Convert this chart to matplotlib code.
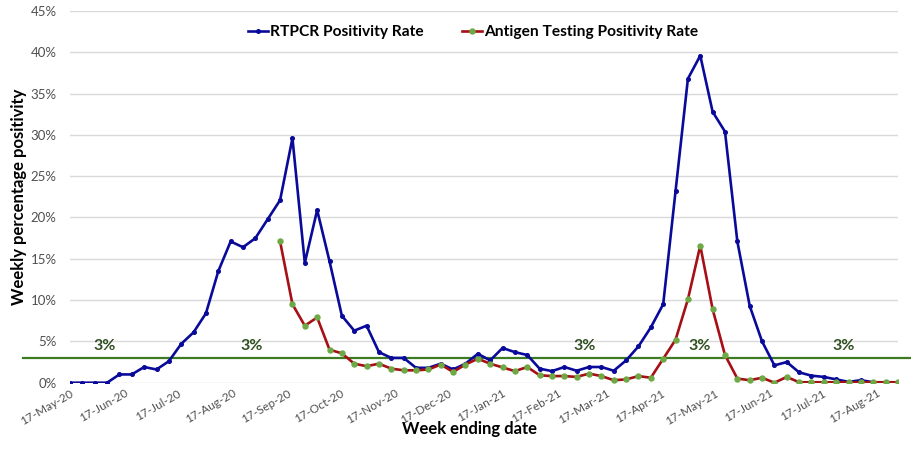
import numpy as np
import pandas as pd
import matplotlib
matplotlib.use("Agg")
import matplotlib.pyplot as plt
import matplotlib.transforms as mtransforms

plt.rcParams['font.family'] = ['Lato', 'DejaVu Sans']

# ---- data ----
start_date = "2020-05-17"
rtpcr = [0, 0, 0, 0, 1.0, 1.0, 1.9, 1.6, 2.6, 4.7, 6.1, 8.4, 13.5, 17.1, 16.4, 17.5,
         19.8, 22.1, 29.6, 14.5, 20.9, 14.7, 8.1, 6.3, 6.9, 3.7, 3.0, 3.0, 1.8, 1.8,
         2.3, 1.6, 2.3, 3.5, 2.7, 4.2, 3.7, 3.35, 1.7, 1.4, 1.9, 1.45, 1.9, 1.9,
         1.45, 2.7, 4.4, 6.7, 9.5, 23.2, 36.8, 39.6, 32.8, 30.4, 17.1, 9.3, 5.0, 2.1,
         2.5, 1.25, 0.85, 0.7, 0.4, 0.1, 0.3, 0.05, 0.05, 0.05]
antigen = [np.nan] * 17 + [17.1, 9.5, 6.9, 7.9, 4.0, 3.55, 2.3, 2.0, 2.3, 1.7, 1.5, 1.5, 1.6,
                           2.2, 1.3, 2.2, 2.9, 2.3, 1.85, 1.4, 1.9, 0.9, 0.8, 0.8, 0.7, 1.1, 0.8,
                           0.3, 0.4, 0.8, 0.6, 2.9, 5.2, 10.1, 16.6, 8.9, 3.35, 0.5, 0.3, 0.6, 0.0,
                           0.7, 0.05, 0.05, 0.05, 0.05, 0.05, 0.05, 0.05, 0.05, 0.05]
threshold = 3.0
threshold_label = "3%"
threshold_label_pos = [0.042, 0.220, 0.622, 0.761, 0.934]  # axes-fraction x positions
series_names = ["RTPCR Positivity Rate", "Antigen Testing Positivity Rate"]
tick_labels = ["17-May-20", "17-Jun-20", "17-Jul-20", "17-Aug-20", "17-Sep-20", "17-Oct-20",
               "17-Nov-20", "17-Dec-20", "17-Jan-21", "17-Feb-21", "17-Mar-21", "17-Apr-21",
               "17-May-21", "17-Jun-21", "17-Jul-21", "17-Aug-21"]
y_ticks = [0, 5, 10, 15, 20, 25, 30, 35, 40, 45]

assert len(rtpcr) == len(antigen) == 68
dates = pd.date_range(start_date, periods=len(rtpcr), freq="7D")
tick_dates = pd.to_datetime(tick_labels, format="%d-%b-%y")

# ---- figure ----
fig = plt.figure(figsize=(9.12, 4.61), dpi=100)
ax = fig.add_axes([70 / 912, (461 - 382.7) / 461, 828 / 912, (382.7 - 11) / 461])

blue = "#0A0A9A"
red = "#A50F15"
green_mk = "#6DAA45"
gline = "#3E7A22"

ax.plot(dates, rtpcr, color=blue, lw=1.9, marker='o', ms=2.6, mfc=blue, mec=blue,
        label=series_names[0], zorder=4)
ax.plot(dates, antigen, color=red, lw=1.9, marker='o', ms=3.6, mfc=green_mk, mec=green_mk,
        label=series_names[1], zorder=5)

ax.set_xlim(dates[0], dates[-1])
ax.set_ylim(0, 45)
ax.set_yticks(y_ticks)
ax.set_yticklabels([f"{v}%" for v in y_ticks])
ax.set_xticks(tick_dates)
ax.set_xticklabels(tick_labels, rotation=30, ha='right', va='top', rotation_mode='anchor')
ax.tick_params(axis='both', length=0, labelsize=8.5, colors='#505050')
ax.tick_params(axis='y', pad=9.5, labelsize=9.5)
ax.tick_params(axis='x', pad=3.5)
for s in ax.spines.values():
    s.set_visible(False)
ax.grid(axis='y', color='#D9D9D9', lw=1.0)
ax.set_axisbelow(True)

# threshold line extending across the figure
trans = mtransforms.blended_transform_factory(fig.transFigure, ax.transData)
ax.plot([23 / 912, 1.0], [threshold, threshold], transform=trans, color=gline, lw=1.6,
        clip_on=False, zorder=3)
ttrans = mtransforms.blended_transform_factory(ax.transAxes, ax.transData)
for xf in threshold_label_pos:
    ax.text(xf, threshold + 0.55, threshold_label, transform=ttrans,
            ha='center', va='bottom', fontsize=11.5, fontweight='bold', color='#2F5020')

ax.set_ylabel("Weekly percentage positivity", fontsize=12, fontweight='bold', color='black')
ax.yaxis.set_label_coords(-(70 - 27) / 828, 0.5)
fig.text(470 / 912, 1 - 429 / 461, "Week ending date", ha='center', va='center',
         fontsize=12, fontweight='bold')

leg = fig.legend(loc='center', bbox_to_anchor=(473 / 912, 1 - 32 / 461), ncol=2, frameon=False,
                 fontsize=11.2, handlelength=1.3, handletextpad=0.1, columnspacing=2.5)
for t in leg.get_texts():
    t.set_fontweight('bold')

fig.savefig("out.png", dpi=100)
